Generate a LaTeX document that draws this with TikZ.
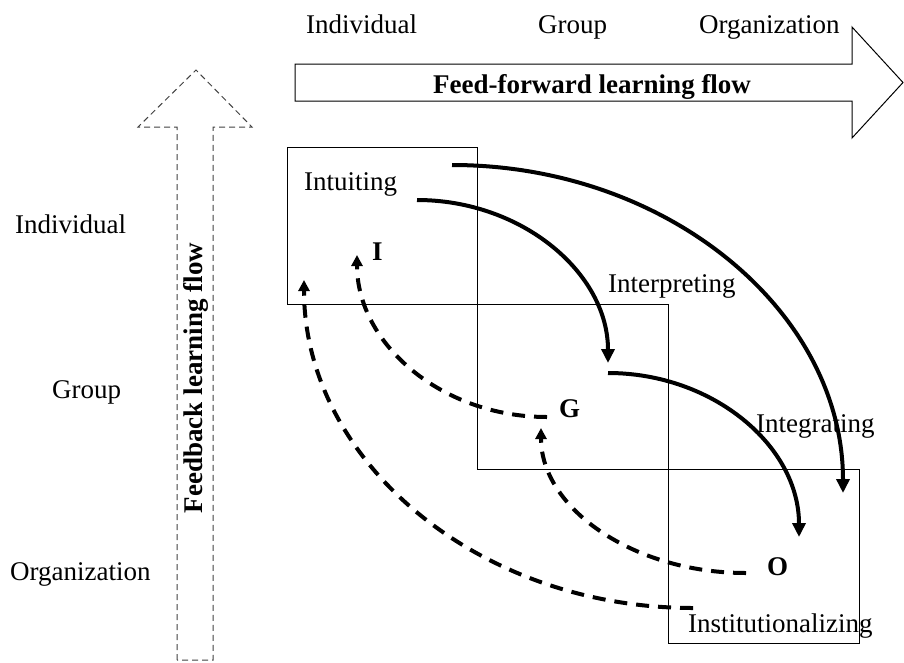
\documentclass[tikz,border=0pt]{standalone}
\usepackage{fontspec}
\setmainfont{Liberation Serif}
\usetikzlibrary{arrows.meta}
\begin{document}
\begin{tikzpicture}[x=1pt,y=-1pt,
  lbl/.style={inner sep=0pt, anchor=base west, font=\fontsize{27}{32}\selectfont},
  boldlbl/.style={lbl, font=\fontsize{27}{32}\selectfont\bfseries},
  stage/.style={draw=black, line width=1pt},
  ffarc/.style={line width=4pt, -{Triangle[length=14pt,width=13pt]}},
  fbarc/.style={line width=4pt, dash pattern=on 13pt off 9pt, -{Triangle[length=11pt,width=11pt]}},
  bigarrow/.style={draw=black, line width=1pt, fill=white},
  fbbig/.style={draw=black!75, line width=1pt, dash pattern=on 6pt off 4pt},
  ]
\useasboundingbox (0,0) rectangle (904,662);

% feed-forward block arrow
\draw[bigarrow] (295,64) -- (852,64) -- (852,27) -- (903,82.5) -- (852,138)
  -- (852,101) -- (295,101) -- cycle;
\node[boldlbl, anchor=base] (fftext) at (592,93) {Feed-forward learning flow};

% feedback block arrow (dashed)
\draw[fbbig] (177,660) -- (177,127) -- (138,127) -- (196,70) -- (252,127)
  -- (213,127) -- (213,660) -- cycle;
\node[boldlbl, anchor=center, rotate=90] (fbtext) at (196,378) {Feedback learning flow};

% level labels
\node[lbl] (topI) at (306,33) {Individual};
\node[lbl] (topG) at (538,33) {Group};
\node[lbl] (topO) at (699,33) {Organization};
\node[lbl] (leftI) at (15,233) {Individual};
\node[lbl] (leftG) at (52,398) {Group};
\node[lbl] (leftO) at (10,580) {Organization};

% the three stage boxes
\draw[stage] (287,147) rectangle (477,304);
\draw[stage] (477,304) rectangle (668,469);
\draw[stage] (668,469) rectangle (859,643);

% stage and level names
\node[lbl] (intuit) at (304,190) {Intuiting};
\node[lbl] (interp) at (608,292) {Interpreting};
\node[lbl] (integr) at (756,432) {Integrating};
\node[lbl] (instit) at (688,632) {Institutionalizing};
\node[boldlbl] (lvI) at (372,260) {I};
\node[boldlbl] (lvG) at (559,417) {G};
\node[boldlbl] (lvO) at (767,575) {O};

% arc end points
\coordinate (ffa0) at (452,165);  \coordinate (ffa1) at (843,493);
\coordinate (ffb0) at (417,200);  \coordinate (ffb1) at (608,363);
\coordinate (ffc0) at (608,373);  \coordinate (ffc1) at (799,537);
\coordinate (fba0) at (693,608);  \coordinate (fba1) at (304,280);
\coordinate (fbb0) at (746,573);  \coordinate (fbb1) at (541,428);
\coordinate (fbc0) at (547,417);  \coordinate (fbc1) at (357,255);

% feed-forward arcs
\draw[ffarc] (ffa0) .. controls +(216,0) and +(0,-181) .. (ffa1);
\draw[ffarc] (ffb0) .. controls +(105,0) and +(0,-90) .. (ffb1);
\draw[ffarc] (ffc0) .. controls +(105,0) and +(0,-91) .. (ffc1);

% feedback arcs
\draw[fbarc] (fba0) .. controls +(-215,0) and +(0,181) .. (fba1);
\draw[fbarc] (fbb0) .. controls +(-113,0) and +(0,80) .. (fbb1);
\draw[fbarc] (fbc0) .. controls +(-105,0) and +(0,89) .. (fbc1);
\end{tikzpicture}
\end{document}
